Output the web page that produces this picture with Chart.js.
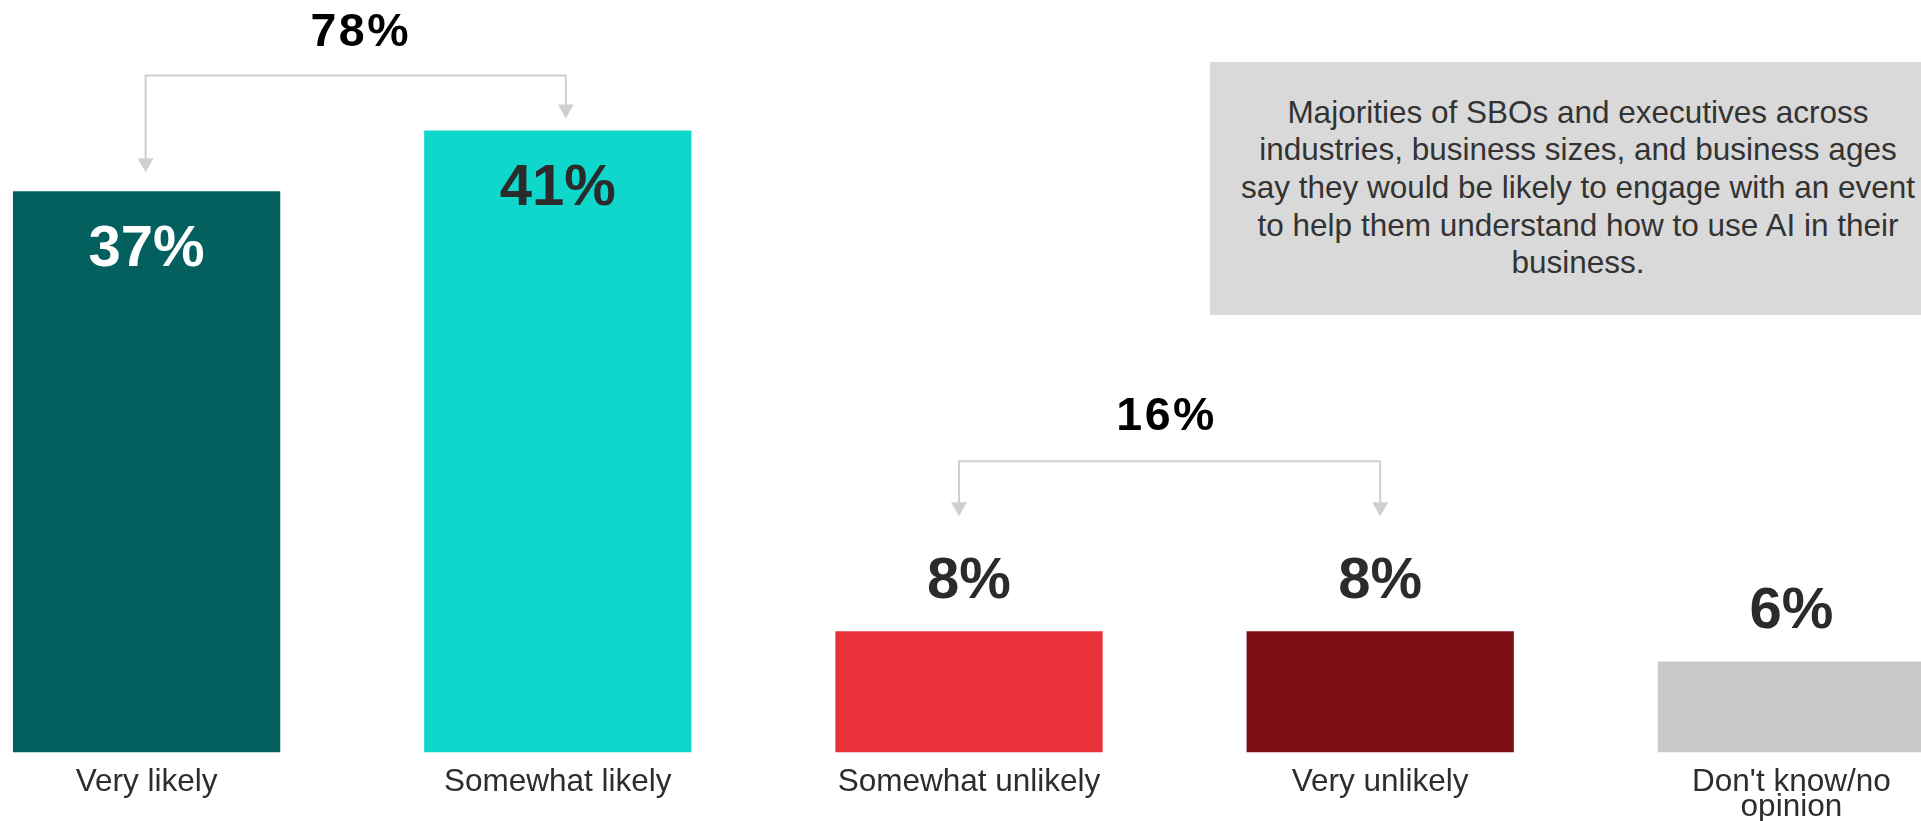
<!DOCTYPE html>
<html>
<head>
<meta charset="utf-8">
<title>Likelihood of engaging with an AI event</title>
<script src="https://cdn.jsdelivr.net/npm/chart.js@4.4.1/dist/chart.umd.min.js"></script>
<style>
  html, body { margin: 0; padding: 0; background: #ffffff; overflow: hidden; width: 1921px; height: 821px; }
  #wrap { position: absolute; left: -59px; top: 0; width: 2056px; height: 821px; }
  #note {
    position: absolute; left: 1210px; top: 62px; width: 736px; height: 253px;
    background: #d9d9d9; color: #333333; box-sizing: border-box; padding-top: 31.5px;
    font-family: "Liberation Sans", Arial, sans-serif; font-size: 31.5px; line-height: 37.7px;
    text-align: center; white-space: nowrap;
  }
</style>
</head>
<body>
<div id="wrap"><canvas id="chart"></canvas></div>
<div id="note">Majorities of SBOs and executives across<br>industries, business sizes, and business ages<br>say they would be likely to engage with an event<br>to help them understand how to use AI in their<br>business.</div>
<script>
// Response categories (tick labels) and share of respondents, in percent
const categories = ['Very likely', 'Somewhat likely', 'Somewhat unlikely', 'Very unlikely', ["Don't know/no", 'opinion']];
const shares = [37, 41, 8, 8, 6];
const barColors = ['#03605f', '#0fd7cc', '#e93239', '#7f0e12', '#c9c9c9'];
const valueLabelColors = ['#ffffff', '#2b2b2b', '#2b2b2b', '#2b2b2b', '#2b2b2b'];

// Bars combined into a net total (indices into the arrays above)
const netGroups = [[0, 1], [2, 3]];

// Bracket styling for each net group (pixel offsets around the bars)
const bracketLayout = [
  { dx: [-1, 8], tipGap: [19, 12], rise: 43, textRise: 46, textDx: 5 },
  { dx: [-10, 0], tipGap: [40, 40], rise: 55, textRise: 48, textDx: -3 }
];

const FONT = '"Liberation Sans", Arial, sans-serif';
const VALUE_SIZE = 58;
const NET_SIZE = 46.5;
const CAP = 0.358; // half of digit height, in em
const HEAD_W = 8, HEAD_H = 14;

const labelsAndBrackets = {
  id: 'labelsAndBrackets',
  afterDatasetsDraw(chart) {
    const ctx = chart.ctx;
    const bars = chart.getDatasetMeta(0).data;
    const anchorTop = [];
    ctx.save();
    ctx.textAlign = 'center';
    ctx.textBaseline = 'alphabetic';
    ctx.font = 'bold ' + VALUE_SIZE + 'px ' + FONT;
    bars.forEach((bar, i) => {
      const v = shares[i];
      const inside = v >= 20;
      const cy = inside ? bar.y + 54 : bar.y - 54;
      ctx.fillStyle = valueLabelColors[i];
      ctx.fillText(v + '%', bar.x, cy + CAP * VALUE_SIZE);
      anchorTop[i] = inside ? bar.y : cy - CAP * VALUE_SIZE;
    });

    netGroups.forEach((members, gi) => {
      const L = bracketLayout[gi];
      const xs = members.map((idx, k) => bars[idx].x + L.dx[k]);
      const tips = members.map((idx, k) => anchorTop[idx] - L.tipGap[k]);
      const lineY = Math.min(...tips) - L.rise;

      ctx.strokeStyle = '#cfcfcf';
      ctx.fillStyle = '#cfcfcf';
      ctx.lineWidth = 2;
      ctx.beginPath();
      ctx.moveTo(xs[0], tips[0] - HEAD_H + 1);
      ctx.lineTo(xs[0], lineY);
      ctx.lineTo(xs[1], lineY);
      ctx.lineTo(xs[1], tips[1] - HEAD_H + 1);
      ctx.stroke();
      xs.forEach((x, k) => {
        ctx.beginPath();
        ctx.moveTo(x - HEAD_W, tips[k] - HEAD_H);
        ctx.lineTo(x + HEAD_W, tips[k] - HEAD_H);
        ctx.lineTo(x, tips[k]);
        ctx.closePath();
        ctx.fill();
      });

      const total = members.reduce((s, idx) => s + shares[idx], 0);
      ctx.font = 'bold ' + NET_SIZE + 'px ' + FONT;
      ctx.letterSpacing = '2.5px';
      ctx.fillStyle = '#000000';
      const tx = (xs[0] + xs[1]) / 2 + L.textDx;
      const ty = lineY - L.textRise;
      ctx.fillText(total + '%', tx, ty + CAP * NET_SIZE);
      ctx.letterSpacing = '0px';
    });
    ctx.restore();
  }
};

new Chart(document.getElementById('chart'), {
  type: 'bar',
  data: {
    labels: categories,
    datasets: [{
      data: shares,
      backgroundColor: barColors,
      borderWidth: 0,
      barPercentage: 0.65,
      categoryPercentage: 1
    }]
  },
  options: {
    responsive: true,
    maintainAspectRatio: false,
    animation: false,
    layout: { padding: 0 },
    plugins: { legend: { display: false }, tooltip: { enabled: false } },
    scales: {
      x: {
        grid: { display: false, drawTicks: false },
        border: { display: false },
        ticks: {
          color: '#2d2d2d',
          font: { family: FONT, size: 31.5, lineHeight: '25px' },
          padding: 17.5,
          maxRotation: 0,
          autoSkip: false
        },
        afterFit(scale) { scale.height = 68.5; }
      },
      y: { display: false, min: 0, max: 49.6 }
    }
  },
  plugins: [labelsAndBrackets]
});
</script>
</body>
</html>
